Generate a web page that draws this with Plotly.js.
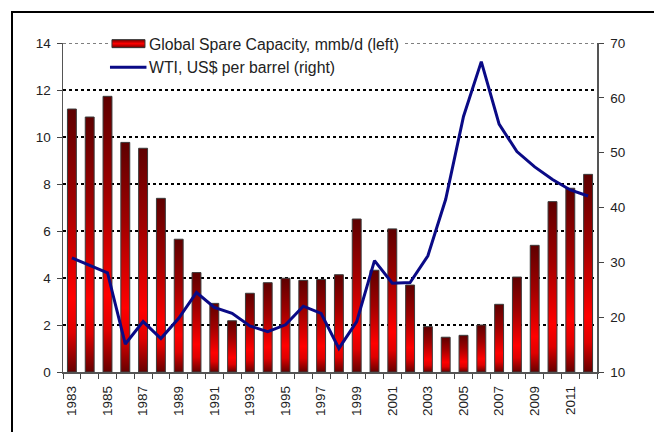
<!DOCTYPE html>
<html>
<head>
<meta charset="utf-8">
<script src="https://cdn.plot.ly/plotly-3.0.1.min.js"></script>
<style>
  html, body { margin: 0; padding: 0; background: #ffffff; overflow: hidden; }
  #wrap { position: relative; width: 654px; height: 432px; }
  #frame { position: absolute; left: 11px; top: 11px; width: 700px; height: 500px;
           border: 2px solid #000; box-sizing: border-box; pointer-events: none; }
  #chart { position: absolute; left: 0; top: 0; width: 654px; height: 432px; }
</style>
</head>
<body>
<div id="wrap">
  <div id="frame"></div>
  <div id="chart"></div>
</div>
<script>
// ---- data ----
var years = [1983, 1984, 1985, 1986, 1987, 1988, 1989, 1990, 1991, 1992,
             1993, 1994, 1995, 1996, 1997, 1998, 1999, 2000, 2001, 2002,
             2003, 2004, 2005, 2006, 2007, 2008, 2009, 2010, 2011, 2012];
var spareCapacity = [11.19, 10.85, 11.73, 9.77, 9.52, 7.39, 5.65, 4.23, 2.92, 2.18,
                     3.35, 3.80, 3.99, 3.90, 3.94, 4.14, 6.51, 4.33, 6.09, 3.70,
                     1.93, 1.48, 1.56, 2.00, 2.88, 4.04, 5.39, 7.25, 7.82, 8.41];
var wti = [30.8, 29.5, 28.1, 15.1, 19.2, 16.1, 19.8, 24.5, 21.8, 20.7,
           18.4, 17.35, 18.6, 22.0, 20.7, 14.3, 19.2, 30.3, 26.2, 26.3,
           31.2, 41.5, 56.6, 66.6, 55.2, 50.2, 47.4, 45.1, 43.2, 42.1];
var xTickYears = [1983, 1985, 1987, 1989, 1991, 1993, 1995, 1997, 1999, 2001, 2003, 2005, 2007, 2009, 2011];
var xTickLabels = ["1983", "1985", "1987", "1989", "1991", "1993", "1995", "1997", "1999", "2001", "2003", "2005", "2007", "2009", "2011"];
var leftTicks = [0, 2, 4, 6, 8, 10, 12, 14];
var rightTicks = [10, 20, 30, 40, 50, 60, 70];
var seriesNames = ["Global Spare Capacity, mmb/d (left)", "WTI, US$ per barrel (right)"];

var FONT = "Arial, 'Liberation Sans', sans-serif";
var leftRange = [0, 14];
var rightRange = [10, 70];
var topGridValue = 14;

var traces = [
  {
    type: "bar",
    name: seriesNames[0],
    x: years,
    y: spareCapacity,
    width: 0.5,
    marker: { color: "#d00000", line: { color: "#3a3a3a", width: 1 } },
    yaxis: "y"
  },
  {
    type: "scatter",
    mode: "lines",
    name: seriesNames[1],
    x: years,
    y: wti,
    line: { color: "#0a0a86", width: 3 },
    yaxis: "y2"
  }
];

var layout = {
  width: 654,
  height: 432,
  margin: { l: 63, r: 57, t: 43, b: 60, pad: 0 },
  paper_bgcolor: "rgba(0,0,0,0)",
  plot_bgcolor: "rgba(0,0,0,0)",
  font: { family: FONT, size: 13.5, color: "#222" },
  showlegend: true,
  legend: {
    x: 0.0861, xanchor: "left", xref: "paper",
    y: 1.049, yanchor: "top", yref: "paper",
    bgcolor: "#ffffff",
    borderwidth: 0,
    font: { family: FONT, size: 15.8, color: "#222" },
    traceorder: "normal"
  },
  shapes: [
    { type: "line", layer: "below", xref: "paper", x0: 0, x1: 1, yref: "y", y0: topGridValue, y1: topGridValue,
      line: { color: "#000", width: 1, dash: "dot" } }
  ],
  bargap: 0,
  xaxis: {
    type: "linear",
    range: [1982.5, 2012.5],
    tickmode: "array",
    tickvals: xTickYears,
    ticktext: xTickLabels,
    tickangle: -90,
    ticks: "",
    ticklabelstandoff: 7,
    showgrid: false,
    zeroline: false,
    showline: true,
    linecolor: "#555",
    linewidth: 1.5,
    tickfont: { family: FONT, size: 13.5, color: "#222" },
    minor: { ticks: "outside", ticklen: 5, tickwidth: 1, tickcolor: "#444", tick0: 1982.5, dtick: 1, showgrid: false }
  },
  yaxis: {
    range: leftRange,
    tickmode: "array",
    tickvals: leftTicks,
    ticks: "outside",
    ticklen: 5,
    tickcolor: "#444",
    ticklabelstandoff: 3,
    showline: true,
    linecolor: "#555",
    linewidth: 1.5,
    showgrid: true,
    gridcolor: "#000",
    gridwidth: 1.5,
    griddash: "dot",
    zeroline: false,
    tickfont: { family: FONT, size: 13.5, color: "#222" }
  },
  yaxis2: {
    range: rightRange,
    overlaying: "y",
    side: "right",
    tickmode: "array",
    tickvals: rightTicks,
    ticks: "outside",
    ticklen: 5,
    tickcolor: "#444",
    ticklabelstandoff: 4,
    showline: true,
    linecolor: "#555",
    linewidth: 1.5,
    showgrid: false,
    zeroline: false,
    tickfont: { family: FONT, size: 13.5, color: "#222" }
  }
};

var gd = document.getElementById("chart");
Plotly.newPlot(gd, traces, layout, { staticPlot: true, displayModeBar: false }).then(function () {
  var ns = "http://www.w3.org/2000/svg";
  var svg = gd.querySelector("svg.main-svg");
  var defs = svg.querySelector("defs") || svg.insertBefore(document.createElementNS(ns, "defs"), svg.firstChild);
  function makeGrad(id, stops) {
    var lg = document.createElementNS(ns, "linearGradient");
    lg.setAttribute("id", id);
    lg.setAttribute("x1", "0"); lg.setAttribute("y1", "0");
    lg.setAttribute("x2", "0"); lg.setAttribute("y2", "1");
    stops.forEach(function (s) {
      var st = document.createElementNS(ns, "stop");
      st.setAttribute("offset", s[0]);
      st.setAttribute("stop-color", s[1]);
      lg.appendChild(st);
    });
    defs.appendChild(lg);
  }
  makeGrad("barGrad", [[0, "#5e0000"], [0.35, "#a00000"], [0.72, "#ff0000"], [0.85, "#e00000"], [1, "#660000"]]);
  makeGrad("legGrad", [[0, "#700000"], [0.5, "#ff0000"], [1, "#700000"]]);
  gd.querySelectorAll(".barlayer .point path").forEach(function (p) {
    p.style.fill = "url(#barGrad)";
  });
  gd.querySelectorAll(".legendpoints path").forEach(function (p) {
    p.setAttribute("d", "M-17,-4H16V4H-17Z");
    p.style.fill = "url(#legGrad)";
    p.style.stroke = "#333";
    p.style.strokeWidth = "1px";
  });
  gd.querySelectorAll(".legendlines path").forEach(function (p) {
    p.setAttribute("d", "M1,0h36.5");
  });
});
</script>
</body>
</html>
